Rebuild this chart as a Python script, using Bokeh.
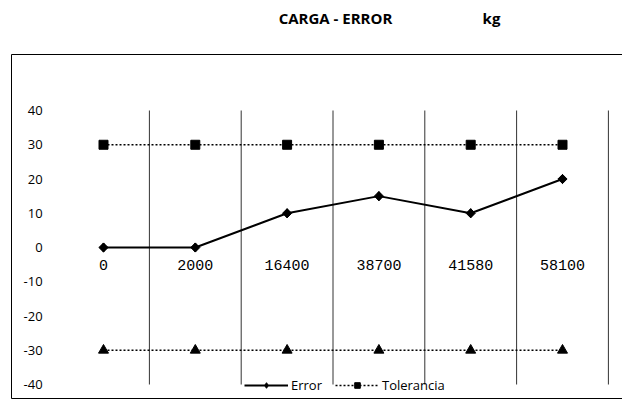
from bokeh.plotting import figure
from bokeh.models import (Range1d, FixedTicker, Legend, LegendItem, ColumnDataSource)
from bokeh.core.properties import value
from bokeh.embed import file_html
from bokeh.resources import INLINE

# ---- data ----
categories = ["0", "2000", "16400", "38700", "41580", "58100"]
error_vals = [0, 0, 10, 15, 10, 20]
tol_upper = [30, 30, 30, 30, 30, 30]
tol_lower = [-30, -30, -30, -30, -30, -30]
y_ticks = [-40, -30, -20, -10, 0, 10, 20, 30, 40]
title_text = "CARGA - ERROR"
unit_text = "kg"

# ---- layout (pixel geometry of the page) ----
W, H = 622, 400
PX0, DX = 103.0, 91.8      # page x of first category, px per category
PY0, DY = 247.0, 3.425     # page y of value 0, px per unit


def xv(px):
    return (px - PX0) / DX


def yv(py):
    return (PY0 - py) / DY


idx = list(range(len(categories)))

p = figure(width=W, height=H, output_backend="svg", toolbar_location=None,
           x_range=Range1d(xv(0), xv(W)), y_range=Range1d(yv(H), yv(0)),
           min_border_left=0, min_border_right=0, min_border_top=0, min_border_bottom=0)
p.outline_line_color = None
p.xgrid.visible = False
p.ygrid.visible = False
p.background_fill_color = "white"

# chart box (frame lines)
box_l, box_t, box_b, box_r = xv(11), yv(54), yv(398), xv(640)
p.segment(x0=[box_l, box_l, box_l], y0=[box_t, box_t, box_b],
          x1=[box_r, box_l, box_r], y1=[box_t, box_b, box_b],
          line_color="black", line_width=1)

# vertical category separators
sep_x = [i + 0.5 for i in idx]
p.segment(x0=sep_x, y0=[y_ticks[0]] * len(sep_x), x1=sep_x, y1=[y_ticks[-1]] * len(sep_x),
          line_color="#333333", line_width=1)

src = ColumnDataSource(dict(x=idx, err=error_vals, up=tol_upper, lo=tol_lower))

tu_line = p.line("x", "up", source=src, line_color="black", line_width=1.6, line_dash="2 2")
tu_mark = p.scatter("x", "up", source=src, marker="square", size=9, fill_color="black", line_color="black")
tl_line = p.line("x", "lo", source=src, line_color="black", line_width=1.6, line_dash="2 2")
tl_mark = p.scatter("x", "lo", source=src, marker="triangle", size=10, fill_color="black", line_color="black")
e_line = p.line("x", "err", source=src, line_color="black", line_width=2)
e_leg = p.scatter("x", "err", source=src, marker="diamond", size=9,
                  fill_color="black", line_color="black")
e_mark = p.scatter("x", "err", source=src, marker="square", angle=0.785398, size=6.5,
                   fill_color="black", line_color="black")

# y axis inside the box
yax = p.yaxis[0]
yax.fixed_location = -0.5
yax.ticker = FixedTicker(ticks=y_ticks)
yax.major_label_overrides = {t: str(t) for t in y_ticks}
yax.axis_line_color = None
yax.major_tick_line_color = None
yax.minor_tick_line_color = None
yax.major_tick_in = 0
yax.major_tick_out = 0
yax.major_label_standoff = 15
yax.major_label_text_font = "Open Sans"
yax.major_label_text_font_size = "13px"
yax.major_label_text_color = "black"

# x axis crossing at 0
xax = p.xaxis[0]
xax.fixed_location = 0
xax.ticker = FixedTicker(ticks=idx)
xax.major_label_overrides = {i: c for i, c in zip(idx, categories)}
xax.axis_line_color = None
xax.major_tick_line_color = None
xax.minor_tick_line_color = None
xax.major_tick_in = 0
xax.major_tick_out = 0
xax.major_label_standoff = 12
xax.major_label_text_font = "Liberation Mono"
xax.major_label_text_font_size = "15px"
xax.major_label_text_color = "black"

# title texts
p.text(x=[xv(335)], y=[yv(17)], text=[title_text], text_font=value("Open Sans"),
       text_font_style="bold", text_font_size="15px", text_align="center",
       text_baseline="middle", text_color="black")
p.text(x=[xv(491)], y=[yv(17)], text=[unit_text], text_font=value("Open Sans"),
       text_font_style="bold", text_font_size="15px", text_align="center",
       text_baseline="middle", text_color="black")

legend = Legend(items=[LegendItem(label="Error", renderers=[e_line, e_leg]),
                       LegendItem(label="Tolerancia", renderers=[tu_line, tu_mark])],
                orientation="horizontal", location=(244, 6))
legend.padding = 0
legend.margin = 0
legend.spacing = 13
legend.glyph_width = 44
legend.glyph_height = 14
legend.label_height = 14
legend.label_standoff = 3
legend.label_text_font = "Open Sans"
legend.label_text_font_size = "13px"
legend.label_text_color = "black"
legend.background_fill_alpha = 0
legend.border_line_color = None
p.add_layout(legend, "center")

open("out.html", "w").write(file_html(p, INLINE))
